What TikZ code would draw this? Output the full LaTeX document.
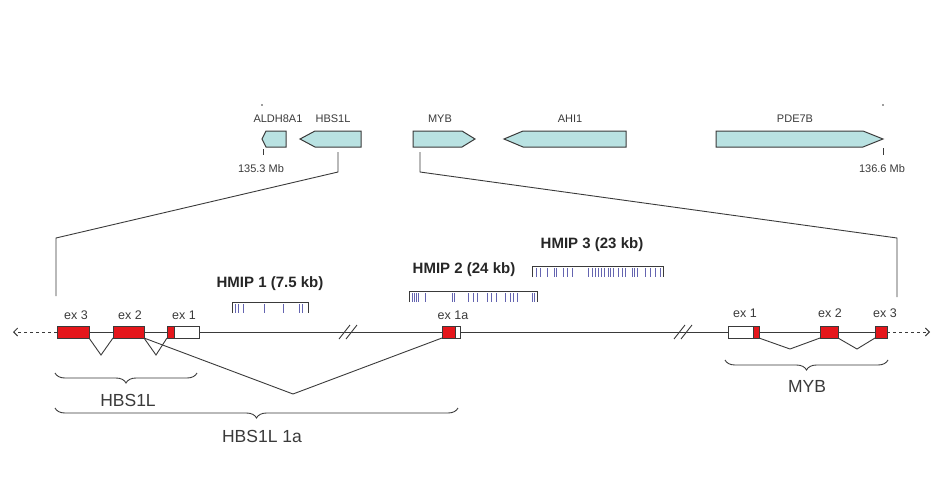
\documentclass[tikz,border=0pt]{standalone}
\usepackage{fontspec}
\setmainfont{Liberation Sans}
\usetikzlibrary{decorations.pathreplacing,arrows.meta}
\definecolor{genefill}{HTML}{B9E2E2}
\definecolor{exonred}{HTML}{E5161B}
\definecolor{hmipblue}{HTML}{6464B0}
\definecolor{linegray}{HTML}{3A3A3A}
\begin{document}
\begin{tikzpicture}[x=1pt,y=-1pt]
    \useasboundingbox (0,0) rectangle (932,501);
    \tikzstyle{gene}=[fill=genefill,draw=linegray,line width=1pt]
    \tikzstyle{exon}=[fill=exonred,draw=linegray,line width=0.8pt]
    \tikzstyle{utr}=[fill=white,draw=linegray,line width=0.8pt]
    \tikzstyle{suite}=[linegray,line width=0.9pt]
    \tikzstyle{toplbl}=[text=linegray,inner sep=0pt,font=\fontsize{11}{13}\selectfont]
    \tikzstyle{exlbl}=[text=linegray,inner sep=0pt,font=\fontsize{12.5}{14}\selectfont]
    \tikzstyle{hmiplbl}=[text=black!85,inner sep=0pt,font=\bfseries\fontsize{15}{17}\selectfont]
    \tikzstyle{biglbl}=[text=linegray,inner sep=0pt,font=\fontsize{17.5}{20}\selectfont]
    \tikzstyle{accolade}=[linegray,line width=0.9pt,decorate,decoration={brace,mirror,amplitude=10pt}]
    \tikzstyle{hmipbar}=[linegray,line width=1pt]
    \tikzstyle{hmiptick}=[hmipblue,line width=0.9pt]

    %%%%%%%%%%%%%%%%%%%%%%%%%%%%%%%%%%%%%% Région 135.3 - 136.6 Mb
    \draw[gene] (262,139)--(266,131)--(286,131)--(286,147)--(266,147)--cycle;
    \draw[gene] (300,139)--(315,131)--(361,131)--(361,147)--(315,147)--cycle;
    \draw[gene] (413,131)--(462,131)--(475,139)--(462,147)--(413,147)--cycle;
    \draw[gene] (504,139)--(523,131)--(626,131)--(626,147)--(523,147)--cycle;
    \draw[gene] (716,131)--(863,131)--(883,139)--(863,147)--(716,147)--cycle;

    \node[toplbl] (aldh) at (278,119) {ALDH8A1};
    \node[toplbl] (hbs) at (333,119) {HBS1L};
    \node[toplbl] (myb) at (440,119) {MYB};
    \node[toplbl] (ahi) at (570,119) {AHI1};
    \node[toplbl] (pde) at (795,119) {PDE7B};

    \fill[linegray] (262,105) circle (0.8);
    \fill[linegray] (883,105) circle (0.8);
    \draw[linegray,line width=0.8pt] (263,149)--(263,155);
    \draw[linegray,line width=0.8pt] (883,148)--(883,155);
    \node[toplbl] (mbdebut) at (261,169) {135.3 Mb};
    \node[toplbl] (mbfin) at (882,169) {136.6 Mb};

    %%%%%%%%%%%%%%%%%%%%%%%%%%%%%%%%%%%%%% Agrandissement
    \coordinate (hbshaut) at (338,152);
    \coordinate (hbscoude) at (338,172);
    \coordinate (zg) at (56,238);
    \coordinate (zgbas) at (56,296);
    \coordinate (mybhaut) at (420,152);
    \coordinate (mybcoude) at (420,172);
    \coordinate (zd) at (897,238);
    \coordinate (zdbas) at (897,297);
    \draw[suite] (hbshaut)--(hbscoude)--(zg)--(zgbas);
    \draw[suite] (mybhaut)--(mybcoude)--(zd)--(zdbas);

    %%%%%%%%%%%%%%%%%%%%%%%%%%%%%%%%%%%%%% Chromosome
    \coordinate (gauche) at (57,332);
    \coordinate (droite) at (887,332);
    \draw[suite] (gauche)--(droite);
    \draw[suite,dashed,-{Straight Barb[length=4pt,width=8pt]}] (gauche)--(13,332);
    \draw[suite,dashed,-{Straight Barb[length=4pt,width=8pt]}] (droite)--(930,332);
    \draw[suite] (339,339)--(350,325);
    \draw[suite] (346,339)--(357,325);
    \draw[suite] (674,339)--(685,325);
    \draw[suite] (681,339)--(692,325);

    %%%%%%%%%%%%%%%%%%%%%%%%%%%%%%%%%%%%%% Exons HBS1L
    \draw[exon] (57,326) rectangle (89,338);
    \draw[exon] (113,326) rectangle (144,338);
    \draw[exon] (167,326) rectangle (174,338);
    \draw[utr] (174,326) rectangle (199,338);
    \draw[exon] (442,326) rectangle (455,338);
    \draw[utr] (455,326) rectangle (460,338);

    \draw[suite] (89,338)--(101,355)--(113,338);
    \draw[suite] (144,338)--(156,355)--(167,338);
    \draw[suite] (144,338)--(293,394)--(442,338);

    \node[exlbl] (hex3) at (76,315) {ex 3};
    \node[exlbl] (hex2) at (130,315) {ex 2};
    \node[exlbl] (hex1) at (184,315) {ex 1};
    \node[exlbl] (hex1a) at (453,315) {ex 1a};

    %%%%%%%%%%%%%%%%%%%%%%%%%%%%%%%%%%%%%% Exons MYB
    \draw[utr] (728,326) rectangle (753,338);
    \draw[exon] (753,326) rectangle (759,338);
    \draw[exon] (820,326) rectangle (838,338);
    \draw[exon] (875,326) rectangle (887,338);

    \draw[suite] (759,338)--(790,349)--(820,338);
    \draw[suite] (838,338)--(857,349)--(875,338);

    \node[exlbl] (mex1) at (745,313) {ex 1};
    \node[exlbl] (mex2) at (830,313) {ex 2};
    \node[exlbl] (mex3) at (885,313) {ex 3};

    %%%%%%%%%%%%%%%%%%%%%%%%%%%%%%%%%%%%%% HMIP
    \node[hmiplbl] (hmip1) at (270,284) {HMIP 1 (7.5 kb)};
    \draw[hmipbar] (232,313)--(232,302)--(308,302)--(308,313);
    \foreach \x in {235,238,243,264,283,299,302}
        \draw[hmiptick] (\x,304)--(\x,313);

    \node[hmiplbl] (hmip2) at (464,270) {HMIP 2 (24 kb)};
    \draw[hmipbar] (409,302)--(409,291)--(537,291)--(537,302);
    \foreach \x in {412,414,416,418,425,452,454,468,473,477,487,491,496,505,510,513,517,532,534}
        \draw[hmiptick] (\x,293)--(\x,302);

    \node[hmiplbl] (hmip3) at (592,245) {HMIP 3 (23 kb)};
    \draw[hmipbar] (532,277)--(532,266)--(663,266)--(663,277);
    \foreach \x in {536,540,547,554,556,563,567,572,588,592,595,598,601,604,608,610,613,618,622,625,632,634,637,645,650,655,660}
        \draw[hmiptick] (\x,268)--(\x,277);

    %%%%%%%%%%%%%%%%%%%%%%%%%%%%%%%%%%%%%% Transcrits
    \draw[accolade] (55,373)--(197,373);
    \node[biglbl] (thbs) at (128,400) {HBS1L};
    \draw[accolade] (55,408)--(458,408);
    \node[biglbl] (thbsa) at (262,436) {HBS1L 1a};
    \draw[accolade] (725,360)--(888,360);
    \node[biglbl] (tmyb) at (807,386) {MYB};
\end{tikzpicture}
\end{document}
